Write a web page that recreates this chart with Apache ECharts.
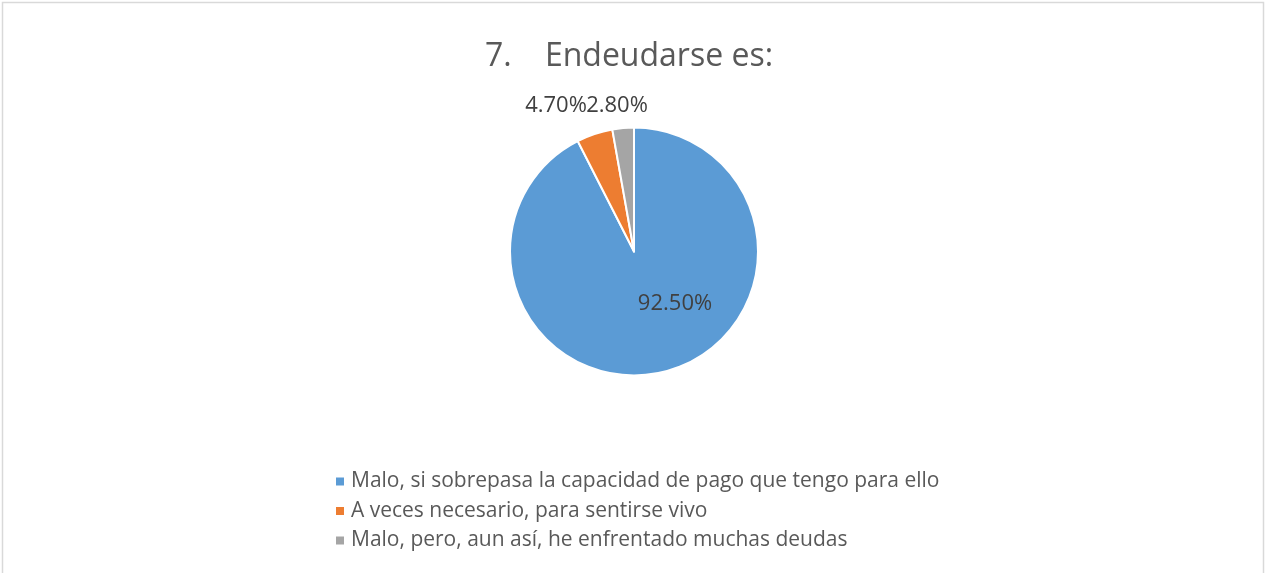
<!DOCTYPE html>
<html>
<head>
<meta charset="utf-8">
<script src="https://cdn.jsdelivr.net/npm/echarts@6/dist/echarts.min.js"></script>
<style>
html,body{margin:0;padding:0;background:#fff;}
#main{width:1265px;height:573px;}
</style>
</head>
<body>
<div id="main"></div>
<script>
const titleText = '7.    Endeudarse es:';
const categories = [
  'Malo, si sobrepasa la capacidad de pago que tengo para ello',
  'A veces necesario, para sentirse vivo',
  'Malo, pero, aun así, he enfrentado muchas deudas'
];
const values = [92.5, 4.7, 2.8];
const colors = ['#5B9BD5', '#ED7D31', '#A5A5A5'];

const CX = 634, CY = 251.5, R = 124;
// label offsets from pie centre (px)
const labelOffsets = [[41, 52], [-78, -146], [-17, -146]];

const chart = echarts.init(document.getElementById('main'), null, {renderer: 'canvas'});
const FONT = 'Open Sans';
chart.setOption({
  backgroundColor: '#fff',
  animation: false,
  graphic: [{
    type: 'rect',
    shape: {x: 2.5, y: 2.5, width: 1261, height: 620},
    style: {fill: 'none', stroke: '#d9d9d9', lineWidth: 1.5},
    silent: true
  }],
  title: {
    text: titleText,
    left: 624, top: 36,
    textAlign: 'center',
    textStyle: {fontFamily: FONT, fontSize: 32, fontWeight: 'normal', color: '#595959'}
  },
  legend: {
    orient: 'vertical',
    left: 331, top: 466,
    icon: 'rect',
    itemWidth: 8, itemHeight: 8,
    itemGap: 8.5,
    itemStyle: {borderWidth: 0},
    textStyle: {fontFamily: FONT, fontSize: 21, color: '#595959', lineHeight: 21, padding: [0,0,0,2]},
    data: categories
  },
  series: [{
    type: 'pie',
    center: [CX, CY],
    radius: [0, R],
    startAngle: 90,
    clockwise: true,
    avoidLabelOverlap: false,
    itemStyle: {borderColor: '#fff', borderWidth: 2},
    label: {
      show: true,
      position: 'inside',
      formatter: p => p.value.toFixed(2) + '%',
      fontFamily: FONT, fontSize: 22, color: '#404040'
    },
    labelLine: {show: false},
    labelLayout: function (p) {
      const o = labelOffsets[p.dataIndex];
      return {x: CX + o[0], y: CY + o[1], align: 'center', verticalAlign: 'middle'};
    },
    data: categories.map((c, i) => ({name: c, value: values[i], itemStyle: {color: colors[i]}}))
  }]
});
</script>
</body>
</html>
